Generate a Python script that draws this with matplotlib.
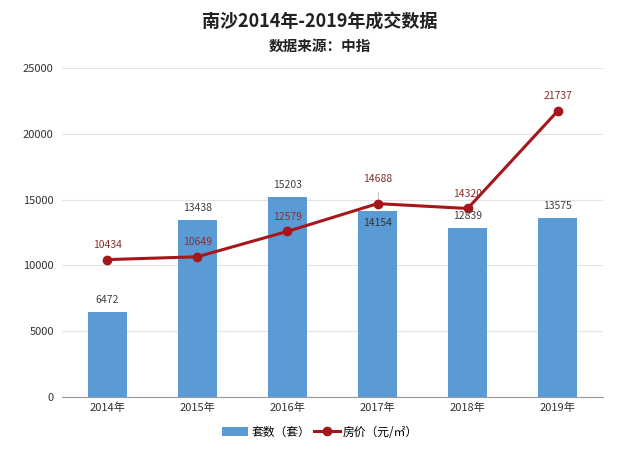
import matplotlib
matplotlib.use('Agg')
import matplotlib.pyplot as plt

plt.rcParams['font.family'] = ['Noto Sans CJK SC', 'DejaVu Sans']

years = ['2014年', '2015年', '2016年', '2017年', '2018年', '2019年']
units = [6472, 13438, 15203, 14154, 12839, 13575]
price = [10434, 10649, 12579, 14688, 14320, 21737]

bar_col = '#5B9BD5'
line_col = '#A5171B'

fig = plt.figure(figsize=(6.4, 4.5), dpi=100)
ax = fig.add_axes([0.097, 0.118, 0.845, 0.731])

x = list(range(len(years)))
bars = ax.bar(x, units, width=0.43, color=bar_col, label='套数（套）', zorder=2)
ln, = ax.plot(x, price, color=line_col, lw=2.2, marker='o', ms=6, label='房价（元/㎡）', zorder=3)

# bar labels (2017 sits inside the bar)
for i, v in enumerate(units):
    if i == 3:
        ax.annotate(str(v), (i, v), xytext=(0, -5), textcoords='offset points',
                    ha='center', va='top', fontsize=7.5, color='#333333', zorder=4)
    else:
        ax.annotate(str(v), (i, v), xytext=(0, 5), textcoords='offset points',
                    ha='center', va='bottom', fontsize=7.5, color='#404040', zorder=4)

# price labels
offs = [7, 7, 7, 14, 7, 7]
for i, v in enumerate(price):
    ax.annotate(str(v), (i, v), xytext=(0, offs[i]), textcoords='offset points',
                ha='center', va='bottom', fontsize=7.5, color='#8B2E2E', zorder=4)
ax.plot([3, 3], [price[3] + 250, price[3] + 900], color='#bbbbbb', lw=0.6, zorder=1)

ax.set_xlim(-0.5, 5.5)
ax.set_ylim(0, 25000)
ax.set_yticks(range(0, 25001, 5000))
ax.set_xticks(x)
ax.set_xticklabels(years, fontsize=8, color='#333333')
ax.tick_params(axis='y', labelsize=8, colors='#333333', length=0, pad=6)
ax.tick_params(axis='x', length=0, pad=4)
ax.grid(axis='y', color='#e3e3e3', lw=0.8, zorder=0)
for s in ['top', 'right', 'left']:
    ax.spines[s].set_visible(False)
ax.spines['bottom'].set_color('#999999')

fig.text(0.5, 0.953, '南沙2014年-2019年成交数据', ha='center', va='center',
         fontsize=13, fontweight='bold', color='#222222')
fig.text(0.5, 0.898, '数据来源：中指', ha='center', va='center',
         fontsize=10.5, fontweight='bold', color='#222222')

fig.legend([bars, ln], ['套数（套）', '房价（元/㎡）'], loc='center',
           bbox_to_anchor=(0.5, 0.04), ncol=2, frameon=False,
           fontsize=8.5, handlelength=2.2, columnspacing=0.3, handletextpad=0.3)

fig.savefig('out.png', dpi=100, facecolor='white')
